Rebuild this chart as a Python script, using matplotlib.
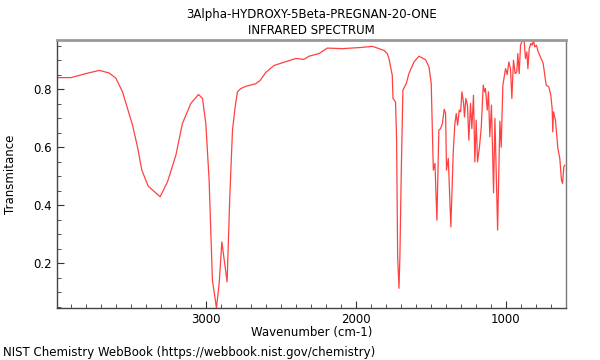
import matplotlib
matplotlib.use("Agg")
import matplotlib.pyplot as plt
from matplotlib.ticker import MultipleLocator, FixedLocator

TITLE = "3Alpha-HYDROXY-5Beta-PREGNAN-20-ONE\nINFRARED SPECTRUM"
FOOTER = "NIST Chemistry WebBook (https://webbook.nist.gov/chemistry)"
X_TICKS = [3000, 2000, 1000]

# Values.
wavenumber = [
    4000, 3902, 3802, 3713, 3647, 3602, 3558, 3491, 3458, 3429, 3387, 3307,
    3258, 3202, 3158, 3102, 3051, 3024, 3002, 2980, 2958, 2931, 2913, 2895,
    2882, 2860, 2842, 2824, 2806, 2791, 2769, 2736, 2669, 2640, 2602, 2547,
    2402, 2347, 2313, 2247, 2191, 2091, 1969, 1891, 1847, 1813, 1791, 1780,
    1769, 1758, 1753, 1736, 1729, 1722, 1713, 1707, 1698, 1687, 1664, 1647,
    1613, 1580, 1536, 1513, 1498, 1484, 1473, 1460, 1447, 1436, 1424, 1411,
    1402, 1396, 1384, 1367, 1351, 1340, 1331, 1322, 1311, 1302, 1293, 1282,
    1276, 1267, 1256, 1247, 1236, 1227, 1216, 1207, 1198, 1189, 1176, 1164,
    1151, 1142, 1136, 1124, 1116, 1107, 1096, 1082, 1073, 1055, 1040, 1031,
    1020, 1009, 1002, 991, 980, 969, 960, 949, 938, 927, 920, 911,
    902, 891, 878, 869, 860, 853, 844, 833, 824, 816, 807, 796,
    784, 769, 751, 731, 713, 700, 691, 687, 682, 669, 653, 640,
    629, 622, 613, 607,
]
transmitance = [
    0.840, 0.840, 0.854, 0.865, 0.856, 0.838, 0.791, 0.676, 0.601, 0.521, 0.466, 0.429,
    0.480, 0.572, 0.682, 0.751, 0.782, 0.768, 0.682, 0.486, 0.141, 0.045, 0.130, 0.273,
    0.222, 0.135, 0.429, 0.659, 0.740, 0.791, 0.802, 0.810, 0.819, 0.830, 0.858, 0.882,
    0.906, 0.903, 0.914, 0.923, 0.942, 0.940, 0.944, 0.948, 0.940, 0.934, 0.923, 0.906,
    0.877, 0.848, 0.768, 0.756, 0.624, 0.222, 0.113, 0.222, 0.509, 0.797, 0.820, 0.854,
    0.894, 0.914, 0.902, 0.877, 0.820, 0.521, 0.544, 0.348, 0.659, 0.664, 0.680, 0.731,
    0.716, 0.521, 0.561, 0.325, 0.584, 0.682, 0.716, 0.676, 0.728, 0.722, 0.791, 0.751,
    0.704, 0.768, 0.745, 0.624, 0.751, 0.664, 0.779, 0.549, 0.693, 0.549, 0.601, 0.670,
    0.814, 0.791, 0.802, 0.728, 0.791, 0.636, 0.745, 0.443, 0.699, 0.314, 0.690, 0.600,
    0.814, 0.848, 0.871, 0.851, 0.894, 0.871, 0.768, 0.900, 0.854, 0.860, 0.923, 0.854,
    0.952, 0.967, 0.967, 0.906, 0.929, 0.871, 0.940, 0.958, 0.952, 0.969, 0.946, 0.952,
    0.929, 0.911, 0.889, 0.814, 0.808, 0.779, 0.733, 0.653, 0.722, 0.693, 0.596, 0.561,
    0.486, 0.475, 0.532, 0.538,
]

fig = plt.figure(figsize=(6, 3.6), dpi=100)
ax = fig.add_axes([0.095, 0.1444, 0.848, 0.7446])
ax.plot(wavenumber, transmitance, color="#ff2020", linewidth=0.9, alpha=0.85)

ax.set_xlim(3995, 600)
ax.set_ylim(0.045, 0.97)
ax.xaxis.set_major_locator(FixedLocator(X_TICKS))
ax.xaxis.set_minor_locator(MultipleLocator(100))
ax.yaxis.set_major_locator(MultipleLocator(0.2))
ax.yaxis.set_minor_locator(MultipleLocator(0.05))
ax.tick_params(which="both", direction="in", labelsize=8.5, color="#333333")
ax.tick_params(which="major", length=5)
ax.tick_params(which="minor", length=3)

for spine in ax.spines.values():
    spine.set_color("#444444")
    spine.set_linewidth(1.0)
ax.spines["top"].set_color("#999999")
ax.spines["top"].set_linewidth(2.0)
ax.spines["right"].set_color("#777777")

ax.set_xlabel("Wavenumber (cm-1)", fontsize=8.5, labelpad=0)
ax.set_ylabel("Transmitance", fontsize=8.5, labelpad=12)
ax.set_title(TITLE, fontsize=8.5, pad=4, linespacing=1.3)
fig.text(0.005, 0.004, FOOTER, fontsize=8.5, ha="left", va="bottom")

fig.savefig("out.png", dpi=100, facecolor="white")
